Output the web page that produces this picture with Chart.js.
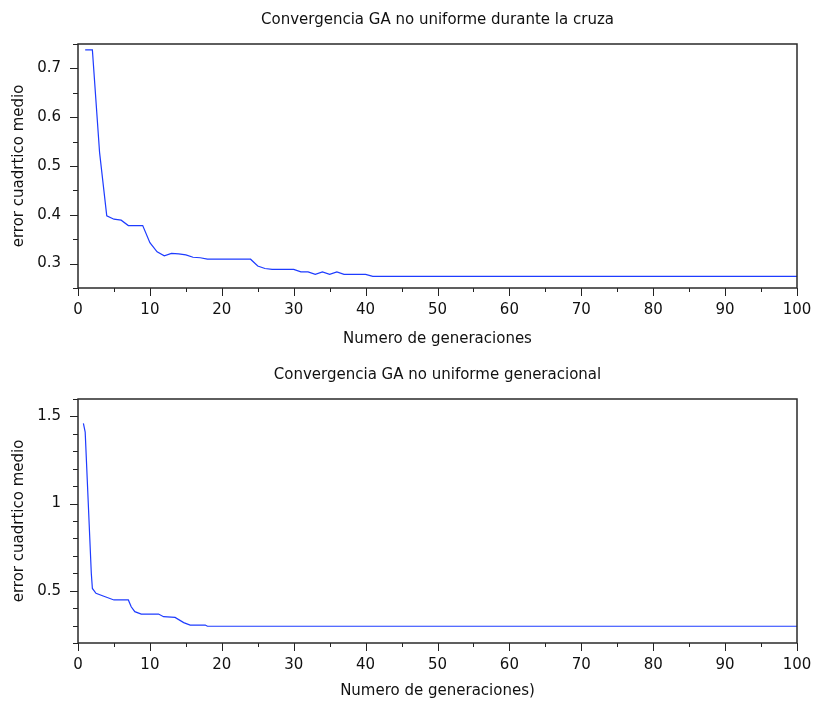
<!DOCTYPE html>
<html>
<head>
<meta charset="utf-8">
<script src="https://cdn.jsdelivr.net/npm/chart.js@4.4.1/dist/chart.umd.min.js"></script>
<style>
  body { margin: 0; background: #fff; }
  .panel { position: absolute; left: 0; width: 814px; height: 351px; }
</style>
</head>
<body>
<div class="panel" style="top:0"><canvas id="crossChart" width="814" height="351"></canvas></div>
<div class="panel" style="top:355px"><canvas id="genChart" width="814" height="351"></canvas></div>
<script>
// ==================== DATA ====================

// GA no uniforme durante la cruza (generation -> mean squared error)
const crossGens = [1, 2, 3, 4, 5, 6, 7, 9, 10, 11, 12, 13, 14, 15, 16, 17, 18, 24, 25, 26, 27, 30, 31, 32, 33, 34, 35, 36, 37, 40, 41, 100];
const crossError = [0.738, 0.738, 0.528, 0.398, 0.391, 0.389, 0.378, 0.378, 0.343, 0.324, 0.316, 0.321, 0.320, 0.318, 0.313, 0.312, 0.309, 0.309, 0.295, 0.290, 0.288, 0.288, 0.283, 0.283, 0.278, 0.283, 0.278, 0.283, 0.278, 0.278, 0.274, 0.274];

// GA no uniforme generacional
const genGens = [0.75, 1.0, 1.85, 2, 2.5, 3.5, 5, 7, 7.4, 7.9, 8.8, 11.2, 11.9, 13.5, 14.7, 15.6, 17.7, 18, 100];
const genError = [1.46, 1.41, 0.6, 0.513, 0.485, 0.47, 0.447, 0.447, 0.408, 0.38, 0.366, 0.366, 0.351, 0.347, 0.317, 0.303, 0.303, 0.296, 0.296];

const xTicks = [0, 10, 20, 30, 40, 50, 60, 70, 80, 90, 100];
const crossYTicks = [0.3, 0.4, 0.5, 0.6, 0.7];
const genYTicks = [0.5, 1, 1.5];

// ==================== HELPERS ====================

Chart.defaults.font.family = "'DejaVu Sans', sans-serif";
Chart.defaults.font.size = 15;
Chart.defaults.color = "#111";

function isMajor(v, step) {
  const r = v / step;
  return Math.abs(r - Math.round(r)) < 1e-6;
}

// box around the plot + outward major/minor tick marks
const frameTicks = {
  id: "frameTicks",
  afterDraw(chart, args, opts) {
    const { ctx, chartArea: a } = chart;
    const x = chart.scales.x;
    const y = chart.scales.y;
    ctx.save();
    ctx.strokeStyle = "#222";
    ctx.lineWidth = 1;
    ctx.beginPath();
    const nx = Math.round((x.max - x.min) / opts.xMinor);
    for (let i = 0; i <= nx; i++) {
      const v = x.min + i * opts.xMinor;
      const px = Math.round(x.getPixelForValue(v)) + 0.5;
      ctx.moveTo(px, a.bottom);
      ctx.lineTo(px, a.bottom + (isMajor(v, opts.xMajor) ? 8 : 4));
    }
    const ny = Math.round((y.max - y.min) / opts.yMinor);
    for (let i = 0; i <= ny; i++) {
      const v = y.min + i * opts.yMinor;
      const py = Math.round(y.getPixelForValue(v)) + 0.5;
      ctx.moveTo(a.left, py);
      ctx.lineTo(a.left - (isMajor(v, opts.yMajor) ? 8 : 5), py);
    }
    ctx.stroke();
    ctx.lineWidth = 1.5;
    ctx.strokeStyle = "#2a2a2a";
    ctx.strokeRect(a.left, a.top, a.right - a.left, a.bottom - a.top);
    ctx.restore();
  },
};

function makeChart(id, cfg) {
  const points = cfg.gens.map((g, i) => ({ x: g, y: cfg.errors[i] }));
  return new Chart(document.getElementById(id), {
    type: "line",
    data: {
      datasets: [
        {
          data: points,
          borderColor: "rgb(30, 60, 255)",
          borderWidth: 1.2,
          pointRadius: 0,
          tension: 0,
          fill: false,
        },
      ],
    },
    options: {
      responsive: false,
      animation: false,
      layout: { padding: { left: 0, right: 17, top: 0, bottom: 0 } },
      plugins: {
        legend: { display: false },
        tooltip: { enabled: false },
        title: {
          display: true,
          fullSize: false,
          text: cfg.title,
          color: "#111",
          font: { size: 15, weight: "normal" },
          padding: { top: 11, bottom: 15 },
        },
        frameTicks: cfg.marks,
      },
      scales: {
        x: {
          type: "linear",
          min: 0,
          max: 100,
          afterBuildTicks: (s) => {
            s.ticks = xTicks.map((v) => ({ value: v }));
          },
          afterFit: (s) => {
            s.height = 63;
            s.paddingLeft = 0;
            s.paddingRight = 0;
          },
          grid: { display: false, drawTicks: false, tickLength: 0 },
          border: { display: false },
          ticks: {
            padding: 13.5,
            autoSkip: false,
            maxRotation: 0,
            callback: (v) => String(v),
          },
          title: {
            display: true,
            text: cfg.xTitle,
            padding: { top: 0, bottom: cfg.xTitlePad },
          },
        },
        y: {
          type: "linear",
          min: cfg.yMin,
          max: cfg.yMax,
          afterBuildTicks: (s) => {
            s.ticks = cfg.yTicks.map((v) => ({ value: v }));
          },
          afterFit: (s) => {
            s.width = 78;
            s.paddingTop = 0;
            s.paddingBottom = 0;
          },
          grid: { display: false, drawTicks: false, tickLength: 0 },
          border: { display: false },
          ticks: {
            padding: 17,
            autoSkip: false,
            callback: (v) => String(v),
          },
          title: {
            display: true,
            text: "error cuadrtico medio",
            padding: { top: 10, bottom: 0 },
          },
        },
      },
    },
    plugins: [frameTicks],
  });
}

window.addEventListener("DOMContentLoaded", function () {
  makeChart("crossChart", {
    title: "Convergencia GA no uniforme durante la cruza",
    xTitle: "Numero de generaciones",
    xTitlePad: 3,
    gens: crossGens,
    errors: crossError,
    yMin: 0.25,
    yMax: 0.75,
    yTicks: crossYTicks,
    marks: { xMinor: 5, xMajor: 10, yMinor: 0.05, yMajor: 0.1 },
  });

  makeChart("genChart", {
    title: "Convergencia GA no uniforme generacional",
    xTitle: "Numero de generaciones)",
    xTitlePad: 5.5,
    gens: genGens,
    errors: genError,
    yMin: 0.2,
    yMax: 1.6,
    yTicks: genYTicks,
    marks: { xMinor: 5, xMajor: 10, yMinor: 0.1, yMajor: 0.5 },
  });
});
</script>
</body>
</html>
